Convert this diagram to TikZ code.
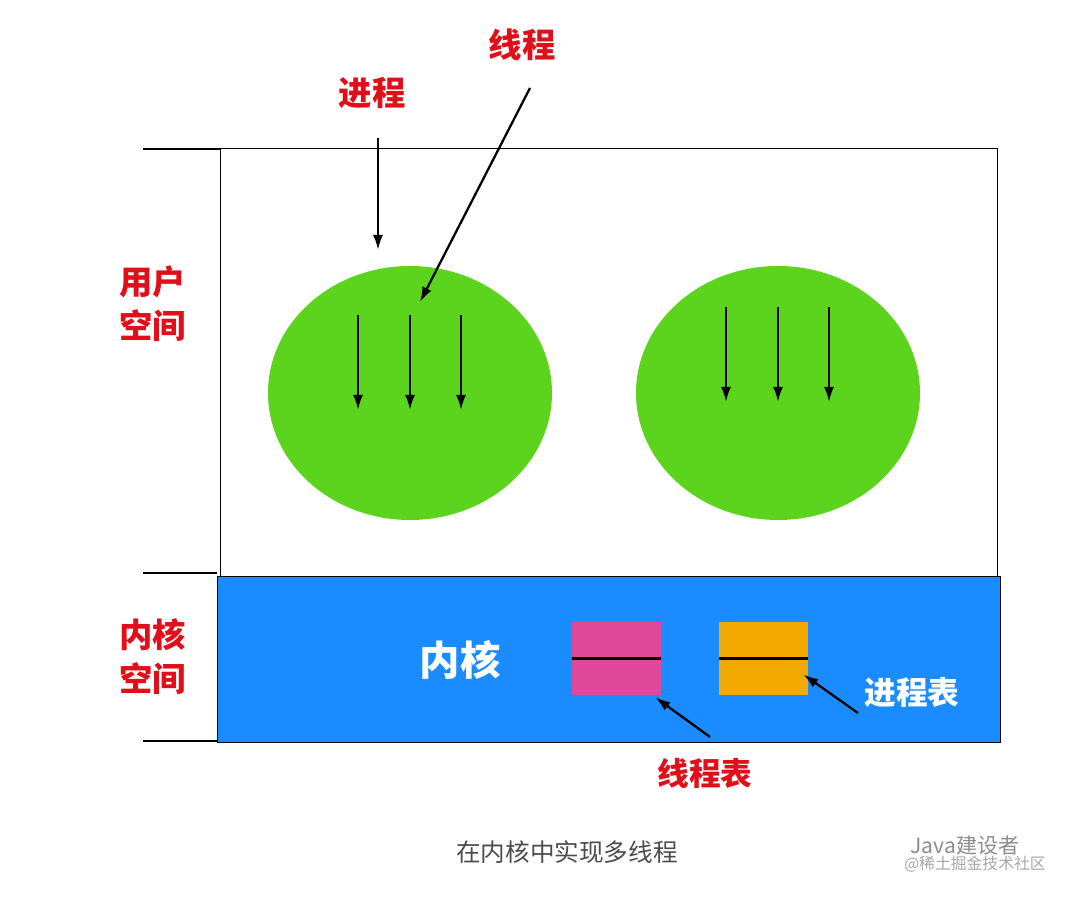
\documentclass[tikz,border=0pt]{standalone}
\usepackage{fontspec}
\setmainfont{Noto Sans CJK SC}
\usetikzlibrary{positioning,shapes.geometric,arrows.meta}
\definecolor{procgreen}{HTML}{5CD41E}
\definecolor{kernblue}{HTML}{1A8CFF}
\definecolor{tabpink}{HTML}{E0489A}
\definecolor{taborange}{HTML}{F2A900}
\definecolor{labred}{HTML}{E0101A}
\begin{document}
\begin{tikzpicture}
[x=0.02cm,y=-0.02cm,
 lab/.style={text=labred,font=\bfseries\fontsize{19}{23}\selectfont,align=center},
 proc/.style={ellipse,fill=procgreen,minimum width=284*0.02cm,minimum height=254*0.02cm,inner sep=0pt},
 tab/.style={rectangle,minimum width=89*0.02cm,minimum height=73*0.02cm,inner sep=0pt},
 thr/.style={-{Latex[length=3mm,width=2mm]},line width=1.3pt},
 ptr/.style={-{Latex[length=3mm,width=2mm]},line width=1.3pt}]

\useasboundingbox (0,0) rectangle (1080,898);

% spaces
\node[draw=black,rectangle,minimum width=777*0.02cm,minimum height=428*0.02cm,inner sep=0pt] (user) at (608.5,362) {};
\node[fill=kernblue,draw=black,rectangle,minimum width=783*0.02cm,minimum height=166*0.02cm,inner sep=0pt] (kern) at (608.5,659) {};

\coordinate (t1) at (143,149); \coordinate (t2) at (143,573); \coordinate (t3) at (143,741);
\draw[line width=1.2pt] (t1) -- (t1 -| user.west);
\draw[line width=1.2pt] (t2) -- (t2 -| kern.west);
\draw[line width=1.2pt] (t3) -- (t3 -| kern.west);

\node[lab] (Luser) at (153,304) {用户\\[2pt]空间};
\node[lab] (Lkern) at (153,657) {内核\\[2pt]空间};

% processes
\node[proc] (P1) at (410,393) {};
\node[proc] (P2) at (778,393) {};
\foreach \dx [count=\i] in {-52,0,51} {
  \coordinate (P1s\i) at ([xshift=\dx*0.02cm,yshift=78*0.02cm]P1.center);
  \coordinate (P1e\i) at ([xshift=\dx*0.02cm,yshift=-17*0.02cm]P1.center);
  \draw[thr] (P1s\i) -- (P1e\i);
  \coordinate (P2s\i) at ([xshift=\dx*0.02cm,yshift=86*0.02cm]P2.center);
  \coordinate (P2e\i) at ([xshift=\dx*0.02cm,yshift=-9*0.02cm]P2.center);
  \draw[thr] (P2s\i) -- (P2e\i);
}

\node[lab] (Lproc) at (372,93) {进程};
\node[lab] (Lthr) at (522,45) {线程};
\coordinate (Aproc) at (378,250);
\coordinate (Athr) at (420,302);
\draw[ptr] (378,138) -- (Aproc);
\draw[ptr] (530,88) -- (Athr);

% kernel
\node[text=white,font=\bfseries\fontsize{23}{27}\selectfont] (Kname) at (460,660) {内核};
\node[tab,fill=tabpink] (Tthr) at (616.5,658.5) {};
\node[tab,fill=taborange] (Tproc) at (763.5,658.5) {};
\draw[line width=1.2pt] (Tthr.west) -- (Tthr.east);
\draw[line width=1.2pt] (Tproc.west) -- (Tproc.east);

\node[text=white,font=\bfseries\fontsize{18}{22}\selectfont] (Lptab) at (912,693) {进程表};
\node[lab,font=\bfseries\fontsize{18}{22}\selectfont] (Lttab) at (705,773) {线程表};
\draw[ptr] (858,713) -- ([xshift=-5*0.02cm,yshift=-16*0.02cm]Tproc.east);
\draw[ptr] (710,737) -- ([xshift=-6*0.02cm,yshift=-2*0.02cm]Tthr.south east);

% caption
\node[text=black!70,font=\fontsize{14}{17}\selectfont] (cap) at (567,852) {在内核中实现多线程};
\node[text=black!45,font=\fontsize{12}{14}\selectfont] (wm1) at (965,846) {Java建设者};
\node[text=black!35,font=\fontsize{9}{11}\selectfont] (wm2) at (975,864) {@稀土掘金技术社区};
\end{tikzpicture}
\end{document}
